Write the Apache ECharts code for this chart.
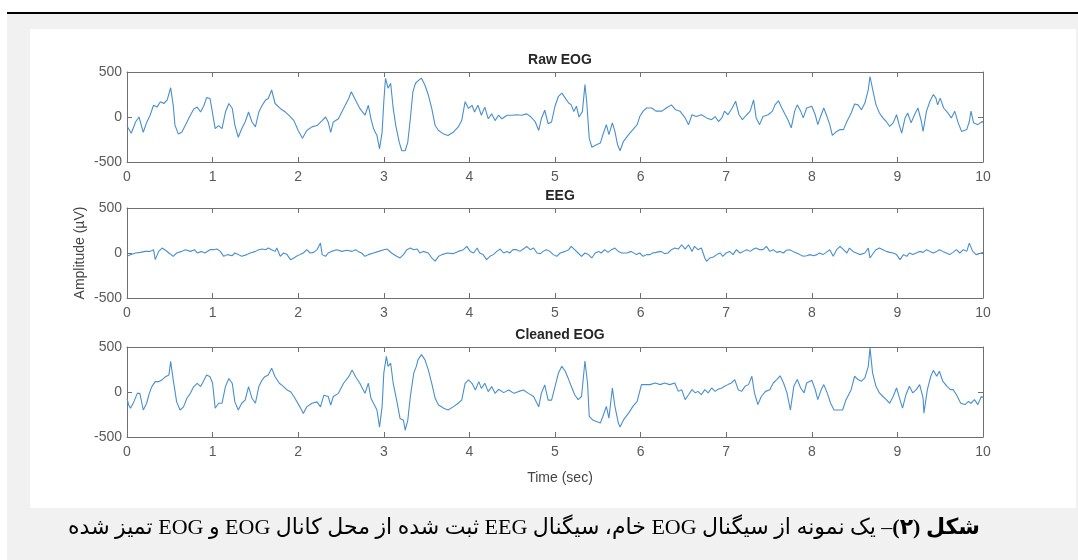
<!DOCTYPE html>
<html><head><meta charset="utf-8">
<script src="https://cdn.jsdelivr.net/npm/echarts@6/dist/echarts.min.js"></script>
<style>
html,body{margin:0;padding:0;background:#fff;width:1078px;height:560px;overflow:hidden;}
#topline{position:absolute;left:7px;top:12px;width:1071px;height:2px;background:#000;}
#gray{position:absolute;left:7px;top:14px;width:1071px;height:546px;background:#f1f1f1;}
#white{position:absolute;left:30px;top:29px;width:1046px;height:479px;background:#fff;}
#chart{position:absolute;left:0;top:0;width:1078px;height:560px;}
#caption{position:absolute;right:98px;top:514px;font-family:"Liberation Serif","DejaVu Sans",serif;font-size:22px;color:#000;white-space:nowrap;}
</style></head>
<body>
<div id="topline"></div><div id="gray"></div><div id="white"></div>
<div id="chart"></div>
<div id="caption" dir="rtl"><b>شکل (۲)</b>– یک نمونه از سیگنال EOG خام، سیگنال EEG ثبت شده از محل کانال EOG و EOG تمیز شده</div>
<script>
const panelTitles = ["Raw EOG", "EEG", "Cleaned EOG"];
const xLabel = "Time (sec)";
const yLabel = "Amplitude (µV)";

const rawT = [0,0.05,0.1,0.14,0.16,0.19,0.23,0.27,0.31,0.35,0.39,0.43,0.47,0.51,0.54,0.56,0.6,0.64,0.68,0.74,0.78,0.82,0.86,0.9,0.93,0.97,0.99,1.03,1.07,1.11,1.15,1.19,1.23,1.26,1.3,1.34,1.38,1.42,1.46,1.5,1.54,1.58,1.62,1.65,1.69,1.73,1.79,1.85,1.89,1.95,2,2.05,2.1,2.16,2.22,2.28,2.32,2.35,2.38,2.41,2.47,2.53,2.59,2.62,2.66,2.72,2.78,2.82,2.85,2.88,2.92,2.95,2.98,3,3.02,3.05,3.08,3.11,3.14,3.18,3.21,3.25,3.28,3.31,3.34,3.37,3.41,3.44,3.48,3.52,3.56,3.6,3.64,3.7,3.75,3.81,3.87,3.91,3.95,3.99,4.03,4.06,4.1,4.14,4.18,4.22,4.26,4.3,4.34,4.38,4.44,4.5,4.55,4.61,4.67,4.72,4.77,4.81,4.84,4.88,4.92,4.96,5,5.04,5.08,5.12,5.16,5.19,5.22,5.25,5.28,5.32,5.35,5.37,5.4,5.43,5.49,5.53,5.56,5.6,5.63,5.67,5.7,5.73,5.76,5.8,5.86,5.91,5.96,5.99,6.03,6.07,6.13,6.18,6.25,6.3,6.36,6.41,6.46,6.52,6.56,6.6,6.65,6.71,6.77,6.83,6.87,6.91,6.95,6.98,7.02,7.07,7.11,7.15,7.19,7.24,7.28,7.32,7.35,7.39,7.43,7.49,7.54,7.57,7.61,7.65,7.69,7.72,7.76,7.8,7.83,7.87,7.9,7.94,8,8.04,8.07,8.11,8.14,8.17,8.21,8.24,8.29,8.33,8.37,8.41,8.46,8.5,8.54,8.58,8.62,8.66,8.68,8.72,8.75,8.79,8.83,8.87,8.91,8.95,8.99,9.02,9.05,9.09,9.12,9.16,9.2,9.24,9.28,9.3,9.34,9.38,9.42,9.45,9.47,9.5,9.54,9.59,9.63,9.67,9.71,9.75,9.81,9.84,9.86,9.89,9.94,9.99,10];
const rawV = [-100,-180,-55,0,-20,-170,-60,20,130,110,170,150,190,325,130,-90,-190,-170,-95,20,90,110,55,130,215,205,95,-130,-95,-130,55,150,95,-90,-225,-130,-55,55,-55,-110,55,130,190,205,300,150,95,55,20,-40,-150,-235,-150,-110,-95,-40,0,-55,-170,-55,-20,95,205,280,205,95,20,130,-20,-130,-205,-355,-170,170,430,320,375,95,-95,-280,-375,-375,-280,-20,280,375,410,430,355,245,95,-95,-150,-190,-205,-170,-110,-40,170,95,130,55,130,20,110,-20,35,-40,20,-20,20,20,25,20,35,0,-55,-150,-20,75,-75,-55,120,230,265,210,155,135,60,120,0,60,360,175,-235,-335,-305,-290,-195,-85,-195,-65,-160,-305,-375,-270,-195,-140,-85,5,65,100,100,65,65,100,135,80,65,-10,-85,25,5,25,-10,-30,5,-50,-10,65,25,100,175,25,-30,25,65,190,-10,-85,5,25,65,135,180,100,25,-30,-120,65,135,65,-10,100,120,25,-85,25,100,25,-85,-205,-160,-140,-140,-50,45,145,135,80,155,305,450,265,135,45,-10,-50,-105,-65,25,-85,-180,-10,45,-65,25,100,-50,-160,65,175,250,210,135,210,100,45,-10,65,-65,-160,-140,-50,65,-65,-85,-50,-60];

const eegT = [0,0.04,0.1,0.16,0.21,0.27,0.31,0.33,0.37,0.41,0.45,0.49,0.54,0.58,0.64,0.68,0.74,0.79,0.82,0.87,0.91,0.97,1.01,1.05,1.09,1.13,1.17,1.23,1.26,1.3,1.34,1.4,1.44,1.5,1.54,1.58,1.62,1.65,1.69,1.73,1.75,1.79,1.83,1.87,1.91,1.95,1.98,2.02,2.06,2.1,2.14,2.18,2.22,2.26,2.28,2.32,2.35,2.39,2.45,2.51,2.57,2.63,2.67,2.7,2.74,2.78,2.82,2.88,2.94,3,3.04,3.09,3.15,3.19,3.23,3.27,3.31,3.35,3.39,3.42,3.46,3.52,3.56,3.6,3.64,3.68,3.74,3.81,3.87,3.93,3.97,4.01,4.05,4.09,4.12,4.16,4.2,4.24,4.28,4.32,4.36,4.4,4.44,4.47,4.51,4.55,4.59,4.63,4.67,4.71,4.75,4.79,4.83,4.86,4.9,4.94,4.98,5.02,5.06,5.12,5.16,5.19,5.23,5.27,5.31,5.35,5.39,5.43,5.47,5.51,5.54,5.58,5.62,5.66,5.7,5.74,5.78,5.84,5.89,5.95,5.99,6.03,6.07,6.11,6.14,6.18,6.24,6.28,6.32,6.36,6.4,6.44,6.48,6.52,6.56,6.6,6.63,6.67,6.71,6.75,6.77,6.81,6.85,6.89,6.93,6.96,7,7.04,7.08,7.12,7.16,7.2,7.24,7.28,7.32,7.35,7.39,7.43,7.47,7.51,7.55,7.59,7.63,7.67,7.7,7.74,7.78,7.82,7.86,7.9,7.94,7.98,8.02,8.06,8.09,8.13,8.17,8.21,8.25,8.29,8.33,8.37,8.41,8.44,8.48,8.52,8.56,8.62,8.66,8.68,8.72,8.75,8.79,8.83,8.87,8.91,8.95,8.99,9.03,9.07,9.11,9.14,9.18,9.22,9.26,9.3,9.34,9.38,9.42,9.46,9.49,9.53,9.57,9.61,9.65,9.69,9.73,9.77,9.81,9.84,9.88,9.92,9.98,10];
const eegV = [-35,-20,0,7,18,18,37,-74,18,55,30,0,-37,0,18,37,18,37,0,18,0,37,37,44,18,-37,-18,-30,0,-18,-37,-18,0,18,37,44,37,55,37,18,55,-37,0,-18,-74,-55,-37,-18,0,37,0,7,37,110,-18,-37,0,18,37,18,30,18,37,18,0,-37,-18,0,18,37,44,0,-37,-55,-18,37,55,37,44,0,18,0,-55,-90,-37,-18,0,-7,18,37,74,18,0,55,0,-18,-74,-37,-18,18,44,0,18,0,37,37,18,44,74,37,55,0,-7,18,37,18,-18,-37,0,18,37,74,37,0,-37,0,-18,-55,0,18,0,37,7,37,55,18,0,0,18,-18,0,-37,-18,-18,0,7,18,-7,0,37,55,44,92,44,92,18,74,37,55,-55,-92,-55,-44,-18,0,-37,0,18,-18,37,0,18,37,18,44,55,37,37,74,18,37,7,18,0,30,37,18,0,-18,-37,-30,-18,-30,-18,0,-18,7,37,-37,37,74,37,0,55,18,0,-18,0,55,-55,0,37,55,37,18,7,0,-18,-74,-18,-37,0,-18,0,18,7,37,18,0,18,37,18,0,-18,7,37,0,37,18,110,18,-18,0,5];

const cleanT = [0,0.02,0.04,0.08,0.12,0.15,0.19,0.23,0.26,0.29,0.33,0.37,0.41,0.45,0.49,0.51,0.54,0.58,0.62,0.66,0.7,0.74,0.78,0.82,0.86,0.89,0.93,0.97,1,1.03,1.07,1.11,1.15,1.19,1.23,1.26,1.3,1.34,1.38,1.42,1.46,1.5,1.54,1.58,1.61,1.65,1.69,1.73,1.78,1.83,1.87,1.91,1.95,2.02,2.06,2.1,2.16,2.22,2.26,2.3,2.35,2.38,2.41,2.47,2.53,2.59,2.63,2.67,2.72,2.78,2.82,2.85,2.88,2.92,2.95,2.98,3,3.03,3.05,3.08,3.11,3.15,3.19,3.23,3.25,3.28,3.31,3.35,3.38,3.4,3.44,3.48,3.52,3.56,3.6,3.64,3.7,3.75,3.81,3.87,3.91,3.95,3.99,4.03,4.07,4.11,4.14,4.18,4.22,4.26,4.3,4.34,4.4,4.46,4.52,4.57,4.63,4.69,4.75,4.81,4.84,4.88,4.92,4.96,5,5.04,5.08,5.12,5.16,5.19,5.23,5.27,5.31,5.35,5.38,5.4,5.44,5.49,5.53,5.56,5.6,5.63,5.67,5.7,5.74,5.76,5.8,5.86,5.91,5.96,6.01,6.05,6.11,6.17,6.23,6.28,6.34,6.4,6.44,6.48,6.52,6.56,6.6,6.64,6.67,6.71,6.75,6.79,6.83,6.87,6.91,6.95,6.98,7.02,7.06,7.1,7.14,7.18,7.22,7.26,7.3,7.33,7.37,7.41,7.46,7.51,7.55,7.59,7.63,7.67,7.71,7.75,7.79,7.83,7.87,7.91,7.94,8,8.04,8.07,8.11,8.14,8.18,8.22,8.26,8.31,8.36,8.4,8.46,8.5,8.54,8.58,8.62,8.66,8.68,8.71,8.75,8.79,8.83,8.87,8.91,8.95,8.99,9.03,9.06,9.1,9.14,9.18,9.22,9.26,9.3,9.31,9.35,9.39,9.42,9.46,9.49,9.53,9.58,9.62,9.65,9.69,9.74,9.79,9.83,9.86,9.9,9.94,9.98,10];
const cleanV = [-70,-145,-180,-110,-15,-15,-200,-125,-15,60,115,115,135,170,190,340,135,-110,-200,-165,-70,-15,60,95,60,115,190,170,97,-180,-125,-125,60,150,95,-110,-200,-125,-90,60,-70,-125,60,135,170,190,265,170,97,60,22,4,-50,-165,-240,-165,-125,-110,-165,-35,-50,-145,-50,-15,97,170,245,170,97,-15,97,-70,-125,-200,-390,-165,210,395,285,320,97,-90,-295,-315,-425,-315,-50,210,285,360,415,360,245,97,-70,-145,-180,-200,-165,-125,-90,97,135,97,22,115,40,97,4,60,-15,30,-7,22,-15,4,22,-15,-50,-165,-15,78,-90,-90,60,210,285,230,138,63,-30,-85,-50,345,100,-270,-310,-330,-345,-270,-160,-290,45,-160,-345,-390,-310,-235,-160,-105,82,82,82,100,82,100,82,100,7,26,-85,-30,26,-10,7,-30,26,-10,45,7,33,45,63,82,100,138,26,7,63,82,175,-10,-140,-50,7,26,100,138,180,100,-10,-200,63,138,45,-10,100,130,26,-85,26,82,-10,-125,-200,-200,-200,-85,26,175,138,120,157,285,490,212,63,-10,-50,-85,-125,-50,45,-85,-180,-30,63,-10,26,82,-65,-235,26,175,240,175,230,120,63,26,26,-30,-125,-140,-105,-125,-85,-140,-50,-60];

const xMin = 0, xMax = 10, xStep = 1;
const yMin = -500, yMax = 500, yStep = 500;

const seriesT = [rawT, eegT, cleanT];
const seriesV = [rawV, eegV, cleanV];

const gridTops = [72, 208, 347];
const gridH = 90;
const axisColor = '#707070';
const labelColor = '#5a5a5a';
const lineColor = '#4a8fcc';
const fontFam = '"Liberation Sans", Arial, sans-serif';

const grids = [], xAxes = [], yAxes = [], series = [], titles = [];
for (let i = 0; i < 3; i++) {
  grids.push({left: 127, right: 95, top: gridTops[i], height: gridH, show: false});
  xAxes.push({type: 'value', gridIndex: i, min: xMin, max: xMax, interval: xStep, position: 'bottom',
    axisLine: {show: true, onZero: false, lineStyle: {color: axisColor, width: 1}},
    axisTick: {show: true, inside: true, length: 5, lineStyle: {color: axisColor}},
    axisLabel: {show: true, color: labelColor, fontSize: 14, fontFamily: fontFam, margin: 8},
    splitLine: {show: false}});
  xAxes.push({type: 'value', gridIndex: i, min: xMin, max: xMax, interval: xStep, position: 'top',
    axisLine: {show: true, onZero: false, lineStyle: {color: axisColor, width: 1}},
    axisTick: {show: true, inside: true, length: 5, lineStyle: {color: axisColor}},
    axisLabel: {show: false}, splitLine: {show: false}});
  yAxes.push({type: 'value', gridIndex: i, min: yMin, max: yMax, interval: yStep, position: 'left',
    axisLine: {show: true, onZero: false, lineStyle: {color: axisColor, width: 1}},
    axisTick: {show: true, inside: true, length: 5, lineStyle: {color: axisColor}},
    axisLabel: {show: true, color: labelColor, fontSize: 14, fontFamily: fontFam, margin: 5},
    splitLine: {show: false}});
  yAxes.push({type: 'value', gridIndex: i, min: yMin, max: yMax, interval: yStep, position: 'right',
    axisLine: {show: true, onZero: false, lineStyle: {color: axisColor, width: 1}},
    axisTick: {show: true, inside: true, length: 5, lineStyle: {color: axisColor}},
    axisLabel: {show: false}, splitLine: {show: false}});
  const data = seriesT[i].map((t, k) => [t, seriesV[i][k]]);
  series.push({type: 'line', xAxisIndex: 2 * i, yAxisIndex: 2 * i, data: data,
    showSymbol: false, symbol: 'none', sampling: null, clip: true,
    lineStyle: {color: lineColor, width: 1.1}, z: 3});
  titles.push({text: panelTitles[i], left: 555, top: gridTops[i] - 24, textAlign: 'center',
    textStyle: {fontSize: 14, fontWeight: 'bold', color: '#262626', fontFamily: fontFam}});
}
titles.push({text: xLabel, left: 555, top: 466, textAlign: 'center',
  textStyle: {fontSize: 14, fontWeight: 'normal', color: '#444', fontFamily: fontFam}});

const chart = echarts.init(document.getElementById('chart'), null, {renderer: 'canvas'});
chart.setOption({
  animation: false,
  backgroundColor: 'transparent',
  title: titles,
  grid: grids,
  xAxis: xAxes,
  yAxis: yAxes,
  series: series,
  graphic: [{type: 'text', x: 80, y: 253, rotation: Math.PI / 2,
    style: {text: yLabel, fill: '#444', font: '14px ' + fontFam, textAlign: 'center', textVerticalAlign: 'middle'}}]
});
</script>
</body></html>
